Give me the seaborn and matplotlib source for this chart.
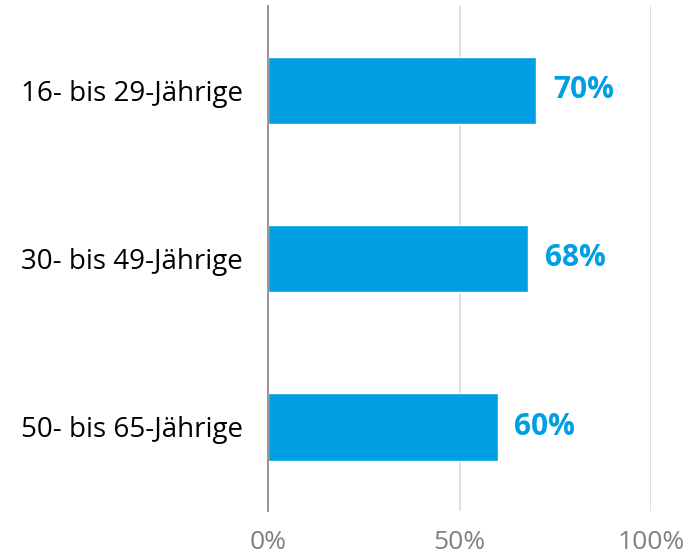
import matplotlib
matplotlib.use("Agg")
import matplotlib.pyplot as plt
import seaborn as sns
import pandas as pd

# data
groups = ["16- bis 29-Jährige", "30- bis 49-Jährige", "50- bis 65-Jährige"]
shares = [70, 68, 60]
tick_values = [0, 50, 100]
tick_labels = ["0%", "50%", "100%"]

df = pd.DataFrame({"group": groups, "share": shares})

sns.set_style("white")
plt.rcParams["font.family"] = ["Open Sans", "DejaVu Sans"]

blue = "#009FE3"
fig = plt.figure(figsize=(6.97, 5.54), dpi=100)
ax = fig.add_axes([268 / 697, 1 - 511 / 554, (651 - 268) / 697, 505 / 554])

sns.barplot(data=df, x="share", y="group", color=blue, width=0.4,
            saturation=1, ax=ax, zorder=3)

ax.set_xlim(0, 100)
ax.set_xticks(tick_values)
ax.set_xticklabels(tick_labels, fontsize=19, color="#808080")
ax.tick_params(axis="x", length=0, pad=14)
ax.tick_params(axis="y", length=0, pad=18, labelsize=20, labelcolor="black")
ax.set_xlabel("")
ax.set_ylabel("")

ax.grid(axis="x", color="#d9d9d9", linewidth=1.2, zorder=0)
ax.grid(axis="y", visible=False)
for s in ["top", "right", "bottom"]:
    ax.spines[s].set_visible(False)
ax.spines["left"].set_color("#8c8c8c")
ax.spines["left"].set_linewidth(1.3)
ax.spines["left"].set_zorder(4)

for i, v in enumerate(shares):
    ax.annotate(f"{v}%", xy=(v, i), xytext=(12, 0), textcoords="offset points",
                ha="left", va="center", fontsize=21.5, fontweight="bold",
                color=blue)

fig.savefig("out.png", dpi=100)
